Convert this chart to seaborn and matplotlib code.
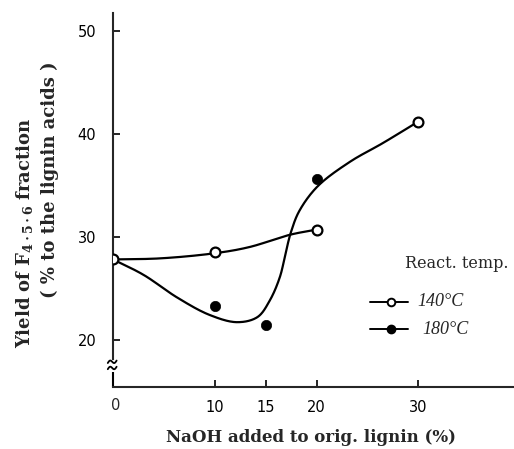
import numpy as np
import pandas as pd
import matplotlib
matplotlib.use("Agg")
import matplotlib.pyplot as plt
import seaborn as sns
from matplotlib.lines import Line2D
import matplotlib.transforms as mtransforms

# ---- data ----
naoh_140 = [0, 10, 20, 30]
yield_140 = [27.8, 28.5, 30.7, 41.2]
naoh_180 = [10, 15, 20]
yield_180 = [23.3, 21.4, 35.6]

# hand-drawn fitted curves (knots)
curve140_x = [0, 4.6, 10, 13.4, 17.4, 20]
curve140_y = [27.8, 27.9, 28.4, 29.0, 30.2, 30.7]
curve180_x = [0, 3.0, 6.3, 9.5, 12.2, 14.2, 15.4, 16.4, 17.0, 17.5, 18.3, 20.1, 23.3, 26.5, 30]
curve180_y = [27.8, 26.3, 24.1, 22.4, 21.7, 22.2, 23.8, 26.1, 28.6, 30.5, 32.5, 34.9, 37.3, 39.1, 41.2]

x_ticks = [10, 15, 20, 30]
x_ticklabels = ["10", "15", "20", "30"]
y_ticks = [20, 30, 40, 50]
y_ticklabels = ["20", "30", "40", "50"]
legend_title = "React. temp."
legend_labels = ["140°C", "180°C"]


def catmull_rom(xs, ys, n=30, alpha=0.5):
    p = np.column_stack([xs, ys]).astype(float)
    p = np.vstack([p[0] * 2 - p[1], p, p[-1] * 2 - p[-2]])
    out = []
    for i in range(1, len(p) - 2):
        P0, P1, P2, P3 = p[i - 1], p[i], p[i + 1], p[i + 2]
        t0 = 0.0
        t1 = t0 + np.linalg.norm(P1 - P0) ** alpha
        t2 = t1 + np.linalg.norm(P2 - P1) ** alpha
        t3 = t2 + np.linalg.norm(P3 - P2) ** alpha
        t = np.linspace(t1, t2, n, endpoint=False)[:, None]
        A1 = (t1 - t) / (t1 - t0) * P0 + (t - t0) / (t1 - t0) * P1
        A2 = (t2 - t) / (t2 - t1) * P1 + (t - t1) / (t2 - t1) * P2
        A3 = (t3 - t) / (t3 - t2) * P2 + (t - t2) / (t3 - t2) * P3
        B1 = (t2 - t) / (t2 - t0) * A1 + (t - t0) / (t2 - t0) * A2
        B2 = (t3 - t) / (t3 - t1) * A2 + (t - t1) / (t3 - t1) * A3
        C = (t2 - t) / (t2 - t1) * B1 + (t - t1) / (t2 - t1) * B2
        out.append(C)
    out.append(p[-2][None, :])
    out = np.vstack(out)
    return out[:, 0], out[:, 1]


sns.set_style("ticks")
plt.rcParams["mathtext.fontset"] = "dejavuserif"

fig = plt.figure(figsize=(5.14, 4.49), dpi=100)
ax = fig.add_axes([113 / 514, 62 / 449, 401 / 514, (387 - 13) / 449])

cx, cy = catmull_rom(curve140_x, curve140_y)
df140c = pd.DataFrame({"x": cx, "y": cy})
cx, cy = catmull_rom(curve180_x, curve180_y)
df180c = pd.DataFrame({"x": cx, "y": cy})

sns.lineplot(data=df140c, x="x", y="y", sort=False, estimator=None, color="black", lw=1.6, ax=ax)
sns.lineplot(data=df180c, x="x", y="y", sort=False, estimator=None, color="black", lw=1.6, ax=ax)

df140 = pd.DataFrame({"x": naoh_140, "y": yield_140})
df180 = pd.DataFrame({"x": naoh_180, "y": yield_180})
sns.scatterplot(data=df140, x="x", y="y", marker="o", s=50, facecolor="white",
                edgecolor="black", linewidth=1.6, zorder=4, ax=ax)
sns.scatterplot(data=df180, x="x", y="y", marker="o", s=55, color="black",
                edgecolor="black", linewidth=0.5, zorder=4, ax=ax)

ax.set_xlim(0, 39.4)
ax.set_ylim(15.4, 51.75)
ax.set_xlabel("")
ax.set_ylabel("")

for s in ["top", "right"]:
    ax.spines[s].set_visible(False)
ax.spines["left"].set_bounds(18.1, 51.75)
ax.spines["left"].set_linewidth(1.5)
ax.spines["bottom"].set_linewidth(1.5)

ax.set_xticks(x_ticks)
ax.set_xticklabels(x_ticklabels)
ax.set_yticks(y_ticks)
ax.set_yticklabels(y_ticklabels)
ax.tick_params(axis="both", direction="in", length=5, width=1.2, labelsize=10.5, colors="black")
ax.tick_params(axis="y", pad=12)
ax.tick_params(axis="x", pad=9)
for lab in ax.get_xticklabels() + ax.get_yticklabels():
    lab.set_fontfamily("DejaVu Sans")

# x-axis "0" label at origin
ax.annotate("0", xy=(0.25, 0), xycoords=mtransforms.blended_transform_factory(ax.transData, ax.transAxes),
            xytext=(0, -8), textcoords="offset points", ha="center", va="top", fontsize=10.5,
            family="DejaVu Sans")

# axis break on y
bt = mtransforms.blended_transform_factory(ax.transAxes, ax.transData)
ax.plot([0, 0], [15.4, 16.9], color="black", lw=1.5, transform=bt, clip_on=False, solid_capstyle="butt")
u = np.linspace(-1, 1, 20)
for yb in (17.85, 17.25):
    ax.plot(u * 0.011 - 0.002, yb - 0.18 * np.sin(u * np.pi) + u * 0.12, color="black", lw=1.3,
            transform=bt, clip_on=False)

# axis labels
fig.text(311 / 514, 1 - 438 / 449, "NaOH added to orig. lignin (%)", ha="center", va="center",
         fontsize=12, family="DejaVu Serif", weight="bold")
fig.text(25 / 514, 1 - 233 / 449, r"Yield of F$_{\mathbf{4\cdot5\cdot6}}$ fraction", rotation=90,
         ha="center", va="center", fontsize=13, family="DejaVu Serif", weight="bold")
fig.text(50 / 514, 1 - 180 / 449, "( % to the lignin acids )", rotation=90,
         ha="center", va="center", fontsize=13, family="DejaVu Serif", weight="bold")

# legend
fig.text(405 / 514, 1 - 263 / 449, legend_title, ha="left", va="center", fontsize=11.5,
         family="DejaVu Serif")
fig.add_artist(Line2D([370 / 514, 408 / 514], [1 - 302 / 449] * 2, color="black", lw=1.4))
fig.add_artist(Line2D([391 / 514], [1 - 302 / 449], marker="o", ms=5.5, mfc="white", mec="black",
                      mew=1.4, color="black"))
fig.add_artist(Line2D([370 / 514, 408 / 514], [1 - 329 / 449] * 2, color="black", lw=1.4))
fig.add_artist(Line2D([391 / 514], [1 - 329 / 449], marker="o", ms=6, mfc="black", mec="black",
                      color="black"))
fig.text(417 / 514, 1 - 302 / 449, legend_labels[0], ha="left", va="center", fontsize=13,
         family="Liberation Serif", style="italic")
fig.text(422 / 514, 1 - 329 / 449, legend_labels[1], ha="left", va="center", fontsize=13,
         family="Liberation Serif", style="italic")

fig.savefig("out.png", dpi=100)
